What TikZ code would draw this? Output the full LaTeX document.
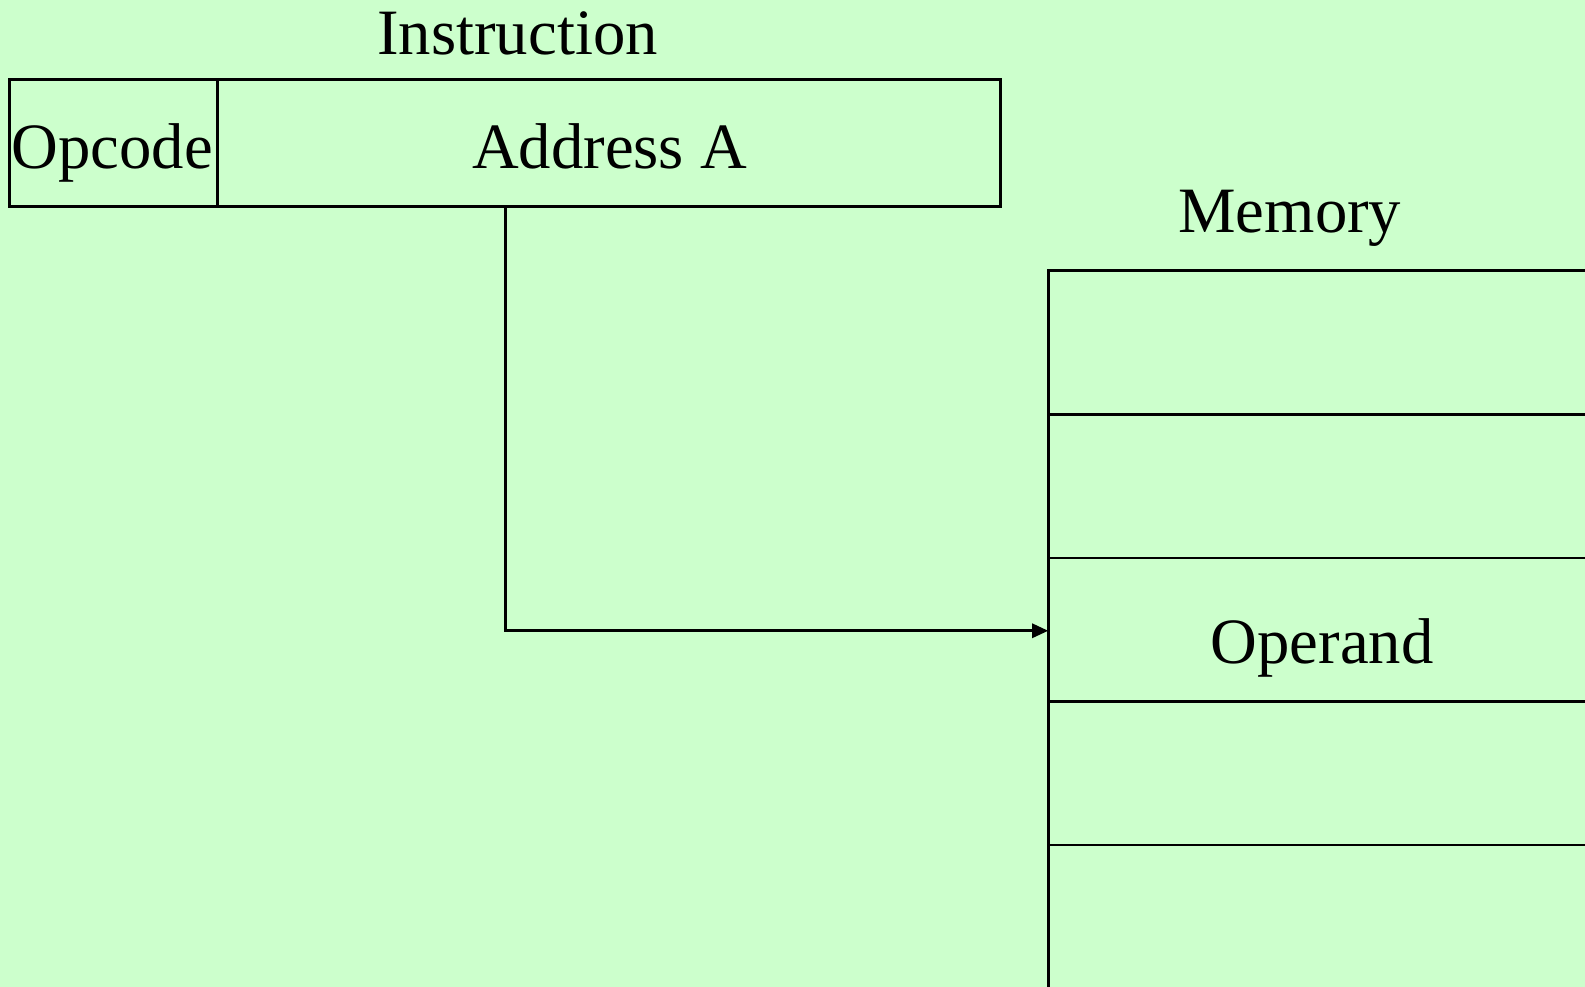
\documentclass[tikz,border=0pt]{standalone}
\usepackage{fontspec}
\setmainfont{Liberation Serif}
\usetikzlibrary{arrows.meta}
\definecolor{bg}{HTML}{CCFFCC}
\begin{document}
\begin{tikzpicture}[x=1pt,y=-1pt,
  line/.style={line width=2.8pt,black},
  lbl/.style={anchor=base,inner sep=0pt,font=\fontsize{64}{70}\selectfont}]
\fill[bg] (0,0) rectangle (1568,976.4);
\useasboundingbox (0,0) rectangle (1568,976.4);
% instruction
\draw[line] (9,79) rectangle (990,204);
\draw[line] (215,79) -- (215,204);
\node[lbl] (ins) at (512,54) {Instruction};
\node[lbl] (opc) at (111,167) {Opcode};
\node[lbl] (adr) at (603,167) {Address A};
\coordinate (a0) at (500,204);
% memory
\node[lbl] (mem) at (1276,230) {Memory};
\draw[line] (1580,268) -- (1037,268) -- (1037,990);
\foreach \y in {410,552,694,836} \draw[line] (1037,\y) -- (1580,\y);
\node[lbl] (op) at (1308,656) {Operand};
\coordinate (m0) at (1037,624);
\draw[line,-{Triangle[length=16pt,width=14pt]}] (a0) |- (m0);
\end{tikzpicture}
\end{document}
